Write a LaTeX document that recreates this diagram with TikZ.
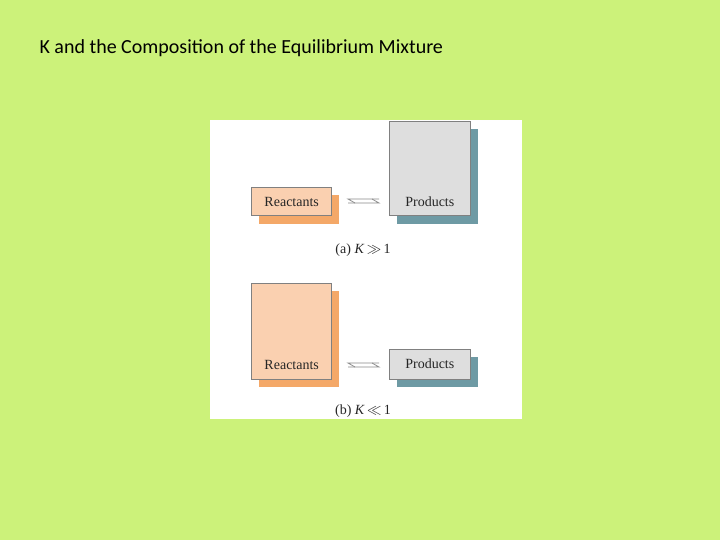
\documentclass[tikz,border=0pt]{standalone}
\usepackage{fontspec}
\setmainfont{Liberation Serif}
\newfontfamily\titlefont{Carlito}
\definecolor{bg}{HTML}{CCF27A}
\definecolor{rfront}{HTML}{FAD0B0}
\definecolor{rshadow}{HTML}{F4A868}
\definecolor{pfront}{HTML}{DEDEDE}
\definecolor{pshadow}{HTML}{6E9AA4}
\definecolor{arr}{HTML}{8A8A8A}
\begin{document}
\begin{tikzpicture}[x=1pt,y=-1pt,
  lbl/.style={font=\fontsize{14}{16}\selectfont, text=black!85},
  eqarrow/.style={draw=arr, line width=0.8pt}]
\useasboundingbox (0,0) rectangle (720,540);
\fill[bg] (0,0) rectangle (720,540);
\node[anchor=west, font=\titlefont\fontsize{20}{24}\selectfont] (title) at (36,48) {K and the Composition of the Equilibrium Mixture};
\fill[white] (210,120) rectangle (522,419);
% top
\fill[rshadow] (259,195) rectangle (339,224);
\draw[gray, fill=rfront, line width=0.5pt] (251.7,187.7) rectangle (331.7,215.7);
\node[lbl] (r1) at (291.7,202) {Reactants};
\fill[pshadow] (397,129) rectangle (478,224);
\draw[gray, fill=pfront, line width=0.5pt] (389.3,121) rectangle (470.3,215.7);
\node[lbl] (p1) at (429.8,202) {Products};
\coordinate (a1l) at (348,201);
\coordinate (a1r) at (379,201);
\draw[eqarrow] ([yshift=-2]a1l) -- ([yshift=-2]a1r) -- ++(-7,-4);
\draw[eqarrow] ([yshift=2]a1r) -- ([yshift=2]a1l) -- ++(7,4);
\node[lbl] (la) at (363,250) {(a) \textit{K}\,$\gg$\,1};
% bottom
\fill[rshadow] (259,291) rectangle (339,387);
\draw[gray, fill=rfront, line width=0.5pt] (251.7,283.3) rectangle (331.7,379);
\node[lbl] (r2) at (291.7,365) {Reactants};
\fill[pshadow] (397,357) rectangle (478,387);
\draw[gray, fill=pfront, line width=0.5pt] (389.3,349.3) rectangle (470.3,379);
\node[lbl] (p2) at (429.8,364) {Products};
\coordinate (a2l) at (348,365);
\coordinate (a2r) at (379,365);
\draw[eqarrow] ([yshift=-2]a2l) -- ([yshift=-2]a2r) -- ++(-7,-4);
\draw[eqarrow] ([yshift=2]a2r) -- ([yshift=2]a2l) -- ++(7,4);
\node[lbl] (lb) at (363,411.5) {(b) \textit{K}\,$\ll$\,1};
\end{tikzpicture}
\end{document}
